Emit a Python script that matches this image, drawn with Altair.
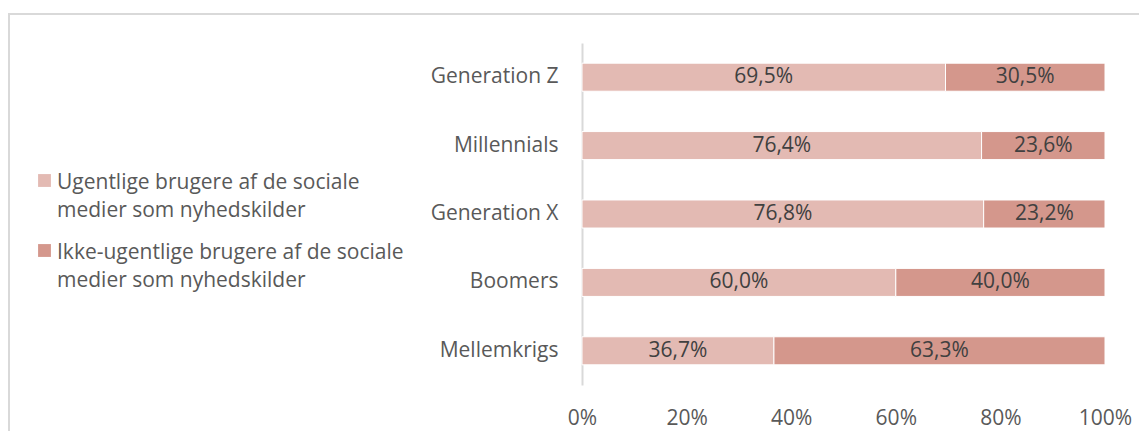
import altair as alt
import pandas as pd

categories = ["Generation Z", "Millennials", "Generation X", "Boomers", "Mellemkrigs"]
weekly = [69.5, 76.4, 76.8, 60.0, 36.7]
non_weekly = [30.5, 23.6, 23.2, 40.0, 63.3]
series = ["Ugentlige brugere af de sociale medier som nyhedskilder",
          "Ikke-ugentlige brugere af de sociale medier som nyhedskilder"]
colors = ["#E3BAB3", "#D4978C"]
x_ticks = [0, 20, 40, 60, 80, 100]

rows = []
for c, w, n in zip(categories, weekly, non_weekly):
    rows.append({"cat": c, "series": series[0], "order": 0, "value": w})
    rows.append({"cat": c, "series": series[1], "order": 1, "value": n})
df = pd.DataFrame(rows)

FONT = "Open Sans"
TXT = "#595959"
FS = 21
DY = -9

base = alt.Chart(df).transform_stack(
    stack="value", groupby=["cat"], as_=["v0", "v1"], sort=[alt.SortField("order")]
).transform_calculate(
    mid="(datum.v0 + datum.v1) / 2",
    lab="replace(format(datum.value, '.1f'), '.', ',') + '%'",
)

y_enc = alt.Y("cat:N", sort=categories, title=None,
              scale=alt.Scale(paddingInner=0.59, paddingOuter=0.295),
              axis=alt.Axis(domainColor="#D9D9D9", domainWidth=2, ticks=False,
                            labelPadding=24, labelOffset=-DY, labelFontSize=FS,
                            labelColor=TXT, labelFont=FONT))

bars = base.mark_bar(stroke="white", strokeWidth=1).encode(
    x=alt.X("v0:Q", scale=alt.Scale(domain=[0, 100]), title=None,
            axis=alt.Axis(values=x_ticks, labelExpr="datum.value + '%'",
                          domain=False, ticks=False, grid=False, labelFlush=False,
                          labelPadding=22 - DY, labelFontSize=FS, labelColor=TXT,
                          labelFont=FONT)),
    x2="v1:Q",
    y=y_enc,
    color=alt.Color("series:N", sort=series,
                    scale=alt.Scale(domain=series, range=colors),
                    legend=alt.Legend(title=None, orient="none",
                                      legendX=-548, legendY=127,
                                      labelExpr="split(replace(datum.label, ' medier', '|medier'), '|')",
                                      labelFontSize=FS, labelColor=TXT, labelFont=FONT,
                                      symbolType="square", symbolSize=165,
                                      symbolStrokeWidth=0, labelLimit=400,
                                      labelBaseline="top", rowPadding=19,
                                      labelOffset=2)),
)

texts = base.mark_text(fontSize=21, font=FONT, color="#404040").encode(
    x="mid:Q",
    y=alt.Y("cat:N", sort=categories),
    text="lab:N",
)

border = alt.Chart(pd.DataFrame({"a": [0]})).mark_rect(
    fill=None, stroke="#D9D9D9", strokeWidth=2
).encode(x=alt.value(-573), x2=alt.value(600), y=alt.value(-29), y2=alt.value(420))

chart = alt.layer(border, bars, texts).properties(
    width=523, height=342,
    autosize=alt.AutoSizeParams(type="none"),
    padding={"left": 574, "top": 35, "right": 34, "bottom": 46},
).configure(
    font=FONT,
    view=alt.ViewConfig(strokeWidth=0, stroke="transparent"),
    style={"guide-label": {"lineHeight": 28, "dy": DY}},
)

chart.save("out.html", embed_options={"renderer": "svg", "actions": False})
